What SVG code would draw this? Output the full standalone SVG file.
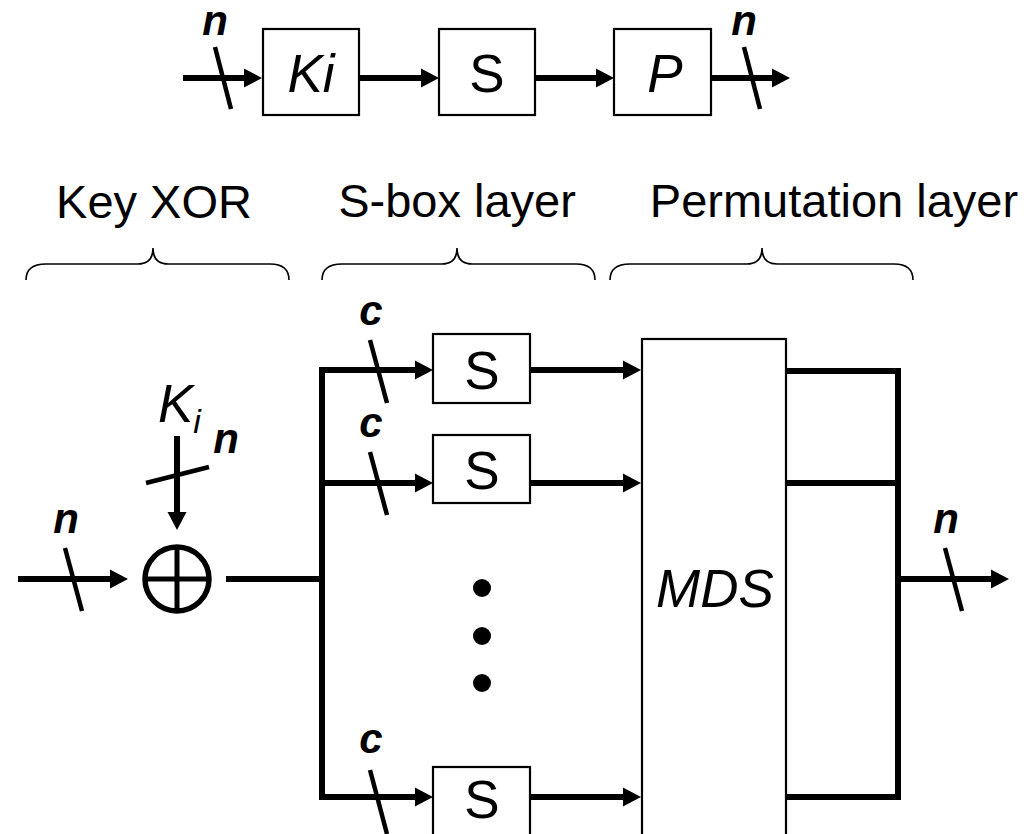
<svg xmlns="http://www.w3.org/2000/svg" width="1027" height="834" viewBox="0 0 1027 834">
<style>
.box{fill:#fff;stroke:#000;stroke-width:2.2}
.wire{fill:none;stroke:#000;stroke-width:6}
.slash{fill:none;stroke:#000;stroke-width:4.5}
.brace{fill:none;stroke:#000;stroke-width:1.6}
.lbl{font-family:"Liberation Sans",Arial,sans-serif;fill:#000}
.big{font-size:53px;text-anchor:middle}
.it{font-style:italic}
.bi{font-size:42px;font-style:italic;font-weight:bold;text-anchor:middle}
.hd{font-size:47px;text-anchor:middle}
</style>
<defs>
<marker id="ah" markerUnits="userSpaceOnUse" markerWidth="20" markerHeight="20" refX="0" refY="9.5" orient="auto" overflow="visible">
<path d="M0,0 L18,9.5 L0,19 z" fill="#000"/>
</marker>
</defs>
<rect width="1027" height="834" fill="#fff"/>

<g id="connectors">
<line class="wire" x1="183" y1="78" x2="244" y2="78" marker-end="url(#ah)"/>
<line class="wire" x1="359" y1="78" x2="421" y2="78" marker-end="url(#ah)"/>
<line class="wire" x1="535" y1="78" x2="596" y2="78" marker-end="url(#ah)"/>
<line class="wire" x1="711" y1="78" x2="772" y2="78" marker-end="url(#ah)"/>
<line class="slash" x1="215" y1="47" x2="231" y2="109"/>
<line class="slash" x1="744" y1="47" x2="760" y2="109"/>

<line class="wire" x1="18" y1="579" x2="110" y2="579" marker-end="url(#ah)"/>
<line class="slash" x1="65" y1="548" x2="82" y2="611"/>
<line class="wire" x1="177" y1="436" x2="177" y2="512" marker-end="url(#ah)"/>
<line class="slash" x1="146" y1="483" x2="209" y2="467"/>
<line class="wire" x1="226" y1="579" x2="322" y2="579"/>
<line class="wire" x1="322" y1="367" x2="322" y2="800"/>
<line class="wire" x1="319" y1="370" x2="415" y2="370" marker-end="url(#ah)"/>
<line class="wire" x1="322" y1="483" x2="415" y2="483" marker-end="url(#ah)"/>
<line class="wire" x1="319" y1="797" x2="415" y2="797" marker-end="url(#ah)"/>
<line class="slash" x1="370" y1="340" x2="387" y2="403"/>
<line class="slash" x1="370" y1="452" x2="387" y2="515"/>
<line class="slash" x1="370" y1="770" x2="387" y2="834"/>
<line class="wire" x1="530" y1="370" x2="623" y2="370" marker-end="url(#ah)"/>
<line class="wire" x1="530" y1="483" x2="623" y2="483" marker-end="url(#ah)"/>
<line class="wire" x1="530" y1="797" x2="623" y2="797" marker-end="url(#ah)"/>
<polyline class="wire" points="786,371 898,371 898,797 786,797"/>
<line class="wire" x1="786" y1="483" x2="898" y2="483"/>
<line class="wire" x1="898" y1="579" x2="991" y2="579" marker-end="url(#ah)"/>
<line class="slash" x1="945" y1="548" x2="962" y2="611"/>
</g>

<g id="top-labels">
<text class="lbl bi" x="215" y="35">n</text>
<text class="lbl bi" x="744" y="35">n</text>
</g>

<g id="node-ki">
<rect class="box" x="263" y="29" width="96" height="86"/>
<text class="lbl big it" x="311" y="92">Ki</text>
</g>
<g id="node-s-top">
<rect class="box" x="439" y="29" width="96" height="86"/>
<text class="lbl big" x="487" y="92">S</text>
</g>
<g id="node-p">
<rect class="box" x="614" y="29" width="97" height="86"/>
<text class="lbl big it" x="665" y="92">P</text>
</g>

<g id="headings">
<text class="lbl hd" x="154" y="218">Key XOR</text>
<text class="lbl hd" x="457" y="217">S-box layer</text>
<text class="lbl hd" x="834" y="217">Permutation layer</text>
<path class="brace" d="M26,280 Q26,264 46,264 L138,264 Q153,264 153,248 Q153,264 168,264 L270,264 Q289,264 289,280"/>
<path class="brace" d="M322,280 Q322,264 342,264 L442,264 Q457,264 457,248 Q457,264 472,264 L576,264 Q595,264 595,280"/>
<path class="brace" d="M610,280 Q610,264 630,264 L747,264 Q762,264 762,248 Q762,264 777,264 L894,264 Q913,264 913,280"/>
</g>

<g id="node-xor">
<circle cx="177" cy="579" r="32" fill="none" stroke="#000" stroke-width="5.5"/>
<line x1="145" y1="579" x2="209" y2="579" stroke="#000" stroke-width="5"/>
<line x1="177" y1="547" x2="177" y2="611" stroke="#000" stroke-width="5"/>
</g>

<g id="bottom-labels">
<text class="lbl bi" x="66" y="533">n</text>
<text class="lbl bi" x="226" y="453">n</text>
<text class="lbl bi" x="946" y="533">n</text>
<text class="lbl bi" x="371" y="325">c</text>
<text class="lbl bi" x="371" y="437">c</text>
<text class="lbl bi" x="371" y="753">c</text>
<text class="lbl it" x="158" y="422" font-size="53">K<tspan font-size="34" dy="11">i</tspan></text>
</g>

<g id="node-s1">
<rect class="box" x="433" y="334" width="97" height="69"/>
<text class="lbl big" x="482" y="389">S</text>
</g>
<g id="node-s2">
<rect class="box" x="433" y="435" width="97" height="68"/>
<text class="lbl big" x="482" y="489">S</text>
</g>
<g id="node-s3">
<rect class="box" x="433" y="767" width="97" height="80"/>
<text class="lbl big" x="482" y="818">S</text>
</g>
<g id="dots">
<circle cx="482" cy="588" r="9" fill="#000"/>
<circle cx="482" cy="636" r="9" fill="#000"/>
<circle cx="482" cy="683" r="9" fill="#000"/>
</g>

<g id="node-mds">
<rect class="box" x="642" y="339" width="144" height="510" stroke-width="1.8"/>
<text class="lbl big it" x="715" y="607">MDS</text>
</g>
</svg>
